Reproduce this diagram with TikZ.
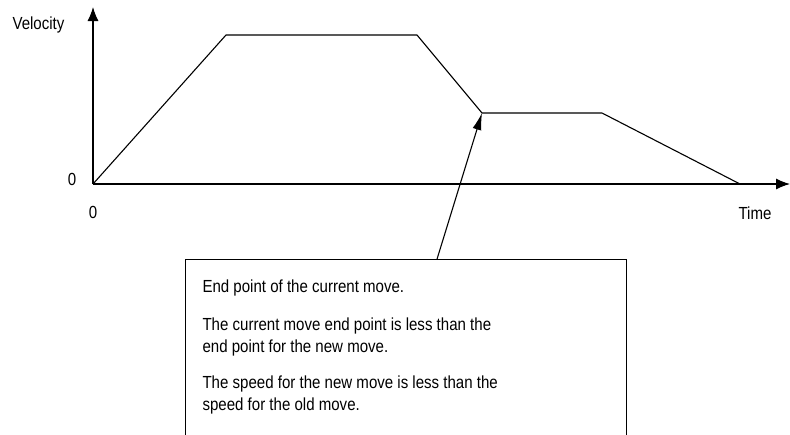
\documentclass[tikz,border=0pt]{standalone}
\usepackage{fontspec}
\setmainfont{Liberation Sans}[FakeStretch=0.86]
\usetikzlibrary{
  arrows.meta,
  positioning
}
\tikzset{>={Latex[length=14pt,width=11pt]}}
\tikzset{font=\fontsize{17.5}{21.5}\selectfont}
\tikzset{note/.style={anchor=base west, align=left, inner sep=0pt},
  axislabel/.style={anchor=base, inner sep=0pt}}

\begin{document}
\begin{tikzpicture}[x=1pt, y=-1pt, line width=1.1pt]
  \useasboundingbox (0,0) rectangle (790,434);
  % axes
  \coordinate (origin) at (93,184);
  \coordinate (vtop) at (93,7);
  \coordinate (tend) at (790,184);
  \draw[->] (origin) -- (vtop);
  \draw[->] (origin) -- (tend);
  \node[axislabel, anchor=base west] (vel) at (12,29) {Velocity};
  \node[axislabel] (vzero) at (72,185) {0};
  \node[axislabel] (tzero) at (93,218) {0};
  \node[axislabel, anchor=base west] (time) at (738,219) {Time};
  % velocity profile
  \coordinate (p1) at (226,35);
  \coordinate (p2) at (417,35);
  \coordinate (p3) at (482,113);
  \coordinate (p4) at (602,113);
  \coordinate (p5) at (740,184);
  \draw[line join=round] (origin) -- (p1) -- (p2) -- (p3) -- (p4) -- (p5);
  % callout
  \node[draw, anchor=north west, minimum width=441pt, minimum height=200pt,
    inner sep=0pt] (box) at (185,259) {};
  \coordinate (tail) at ([xshift=31pt]box.north);
  \draw[-{Latex[length=17pt,width=9pt]}] (tail) -- (p3);
  % base anchor sits on the last line
  \node[note] (endpt) at (202,292) {End point of the current move.};
  \node[note] (less) at (202,352) {The current move end point is less than the\\
    end point for the new move.};
  \node[note] (speed) at (202,410) {The speed for the new move is less than the\\
    speed for the old move.};
\end{tikzpicture}
\end{document}
